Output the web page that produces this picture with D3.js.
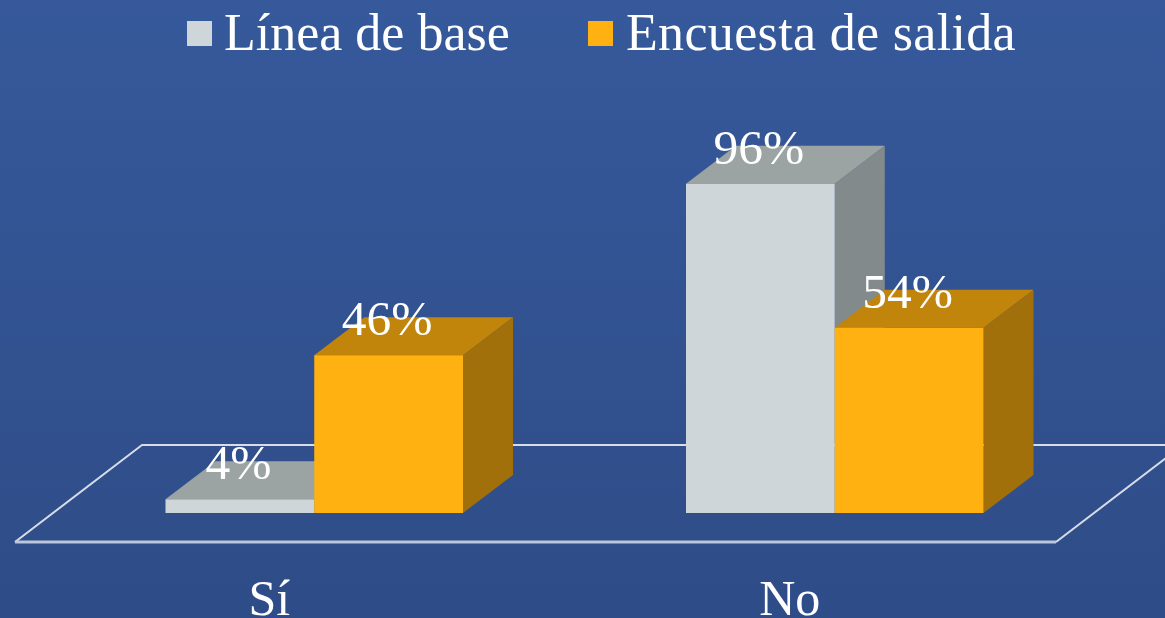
<!DOCTYPE html>
<html lang="es">
<head>
<meta charset="utf-8">
<script src="https://cdn.jsdelivr.net/npm/d3@7"></script>
<style>
  html, body { margin: 0; padding: 0; background: #2e4d88; overflow: hidden; }
  svg { display: block; }
  text { font-family: "Liberation Serif", serif; fill: #fff; }
</style>
</head>
<body>
<svg id="chart" width="1165" height="618"></svg>
<script>
const categories = ["Sí", "No"];
const seriesNames = ["Línea de base", "Encuesta de salida"];
const baseline = [4, 96];
const exitSurvey = [46, 54];
const faceColors = [
  { front: "#ced6d9", top: "#9ba3a3", side: "#828a8c" },
  { front: "#ffb111", top: "#c1850b", side: "#a1700a" }
];

const width = 1165, height = 618;
const svg = d3.select("#chart");

// Page background
const grad = svg.append("defs").append("linearGradient")
  .attr("id", "bg").attr("x1", 0).attr("y1", 0).attr("x2", 0).attr("y2", 1);
grad.append("stop").attr("offset", "0%").attr("stop-color", "#36599b");
grad.append("stop").attr("offset", "100%").attr("stop-color", "#2e4c87");
svg.append("rect").attr("width", width).attr("height", height).attr("fill", "url(#bg)");

// Oblique projection: floor front edge, floor back edge, and the row the bars stand on
const floorFront = 542, floorBack = 445, floorLeft = 15, floorRight = 1056;
const floorShift = 127;
const rowLift = 29, rowShift = 39;
const depthX = 50, depthY = 38;

const x = d3.scaleBand().domain(categories).range([floorLeft, floorRight]);
const barBase = floorFront - rowLift;
const y = d3.scaleLinear().domain([0, 100]).range([barBase, barBase - 343]);
const inner = d3.scaleBand().domain(d3.range(seriesNames.length)).range([-148.75, 148.75]);

// Floor outline: the receding edges are thin, the front edge a little heavier
svg.append("path")
  .attr("d", d3.line()([
    [floorLeft, floorFront],
    [floorLeft + floorShift, floorBack],
    [floorRight + floorShift, floorBack],
    [floorRight, floorFront]
  ]))
  .attr("fill", "none")
  .attr("stroke", "#d6dde8")
  .attr("stroke-width", 2)
  .attr("stroke-linejoin", "round");
svg.append("path")
  .attr("d", d3.line()([[floorLeft, floorFront], [floorRight, floorFront]]))
  .attr("fill", "none")
  .attr("stroke", "#bcc7dc")
  .attr("stroke-width", 3);

// One record per bar, back-to-front in drawing order
const bars = categories.flatMap((c, i) => [baseline[i], exitSurvey[i]].map((v, s) => ({
  category: c, series: s, value: v
})));

const barX = d => x(d.category) + x.bandwidth() / 2 + rowShift + inner(d.series);
const poly = d3.line();

const bar = svg.append("g").selectAll("g").data(bars).join("g");

bar.append("path")   // side face
  .attr("fill", d => faceColors[d.series].side)
  .attr("d", d => {
    const r = barX(d) + inner.bandwidth(), t = y(d.value);
    return poly([[r, barBase], [r + depthX, barBase - depthY], [r + depthX, t - depthY], [r, t]]) + "Z";
  });

bar.append("path")   // top face
  .attr("fill", d => faceColors[d.series].top)
  .attr("d", d => {
    const l = barX(d), r = l + inner.bandwidth(), t = y(d.value);
    return poly([[l, t], [r, t], [r + depthX, t - depthY], [l + depthX, t - depthY]]) + "Z";
  });

bar.append("rect")   // front face
  .attr("fill", d => faceColors[d.series].front)
  .attr("x", barX)
  .attr("y", d => y(d.value))
  .attr("width", inner.bandwidth())
  .attr("height", d => barBase - y(d.value));

// Value labels
svg.append("g").selectAll("text").data(bars).join("text")
  .attr("x", d => barX(d) + inner.bandwidth() / 2 - 1.5)
  .attr("y", d => y(d.value) - 20)
  .attr("text-anchor", "middle")
  .attr("font-size", 49.5)
  .text(d => d.value + "%");

// Category labels
svg.append("g").selectAll("text").data(categories).join("text")
  .attr("x", d => x(d) + x.bandwidth() / 2 - 6)
  .attr("y", 615)
  .attr("text-anchor", "middle")
  .attr("font-size", 50)
  .text(d => d);

// Legend
const legendX = [187, 588];
const legend = svg.append("g").selectAll("g").data(seriesNames).join("g")
  .attr("transform", (d, i) => `translate(${legendX[i]},21)`);
legend.append("rect")
  .attr("width", 25).attr("height", 25)
  .attr("fill", (d, i) => faceColors[i].front);
legend.append("text")
  .attr("x", (d, i) => i ? 38 : 37)
  .attr("y", 28.5)
  .attr("font-size", 52)
  .attr("letter-spacing", (d, i) => i ? 0.33 : 0)
  .text(d => d);
</script>
</body>
</html>
